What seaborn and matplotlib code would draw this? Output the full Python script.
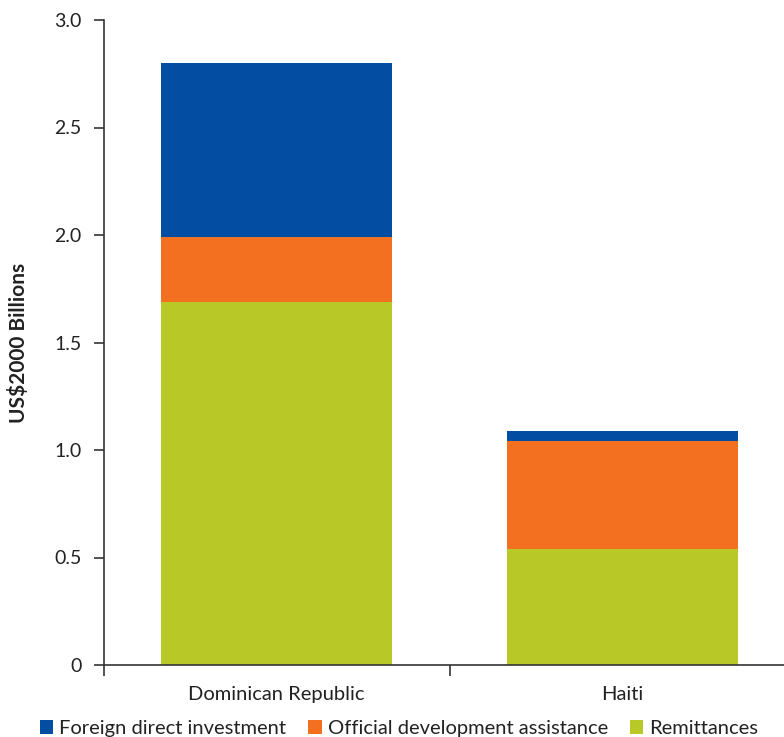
import matplotlib
matplotlib.use("Agg")
import matplotlib.pyplot as plt
from matplotlib.patches import Patch
import seaborn as sns
import pandas as pd

countries = ["Dominican Republic", "Haiti"]
remittances = [1.69, 0.54]
oda = [0.30, 0.50]
fdi = [0.81, 0.05]

series_names = ["Foreign direct investment", "Official development assistance", "Remittances"]
colors = ["#034EA2", "#F37021", "#B8C826"]

sns.set_theme(style="white")
plt.rcParams["font.family"] = ["Lato", "DejaVu Sans"]

df = pd.DataFrame({"country": countries, "rem": remittances, "oda": oda, "fdi": fdi})
df["lvl_rem"] = df["rem"]
df["lvl_oda"] = df["rem"] + df["oda"]
df["lvl_fdi"] = df["rem"] + df["oda"] + df["fdi"]

fig = plt.figure(figsize=(7.84, 7.37), dpi=100)
ax = fig.add_axes([104 / 784, 72 / 737, 691 / 784, 645 / 737])

# stacked bars: draw cumulative totals from the top segment down
for col, c in zip(["lvl_fdi", "lvl_oda", "lvl_rem"], colors):
    sns.barplot(data=df, x="country", y=col, color=c, width=0.67,
                saturation=1, ax=ax, linewidth=0, errorbar=None)

ax.set_xlim(-0.5, 1.5)
ax.set_ylim(0, 3.0)
ax.set_yticks([0, 0.5, 1.0, 1.5, 2.0, 2.5, 3.0])
ax.set_yticklabels(["0", "0.5", "1.0", "1.5", "2.0", "2.5", "3.0"])
ax.set_xticks([0, 1])
ax.set_xticklabels(countries)
ax.set_xticks([-0.5, 0.5, 1.5], minor=True)
ax.tick_params(axis="x", which="major", length=0, pad=15, labelsize=14.5, colors="#222222")
ax.tick_params(axis="x", which="minor", length=8, width=1.2, color="#333333", direction="out", bottom=True)
ax.tick_params(axis="y", length=7, width=1.2, color="#333333", direction="out", left=True,
               pad=9, labelsize=14, labelcolor="#222222")

for s in ["top", "right"]:
    ax.spines[s].set_visible(False)
for s in ["left", "bottom"]:
    ax.spines[s].set_color("#333333")
    ax.spines[s].set_linewidth(1.2)

ax.set_xlabel("")
ax.set_ylabel("US$2000 Billions", fontsize=15, fontweight="bold", color="#222222", labelpad=18)

handles = [Patch(facecolor=c, edgecolor="none") for c in colors]
fig.legend(handles, series_names, loc="lower left", bbox_to_anchor=(22 / 784, -18 / 737),
           ncol=3, frameon=False, fontsize=14.5, handlelength=0.65, handleheight=0.65,
           handletextpad=0.3, columnspacing=1.1, labelcolor="#222222",
           borderpad=0.4)

fig.savefig("out.png", dpi=100)
